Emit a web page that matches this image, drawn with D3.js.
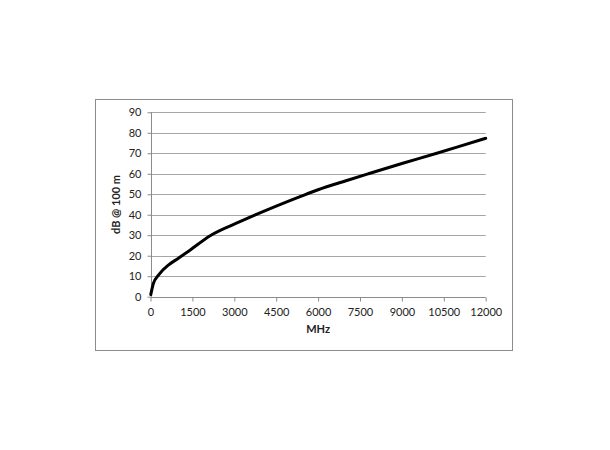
<!DOCTYPE html>
<html>
<head>
<meta charset="utf-8">
<script src="https://cdn.jsdelivr.net/npm/d3@7/dist/d3.min.js"></script>
<style>
  html, body { margin: 0; padding: 0; background: #fff; }
  svg { display: block; }
</style>
</head>
<body>
<svg id="chart" width="610" height="450"></svg>
<script>
// Data
const freqMHz = [10, 100, 300, 650, 1000, 1400, 2150, 3200, 3750, 4500, 5400, 6000, 7000, 7800, 9000, 10250, 11000, 12000];
const attenDb = [1.0, 6.3, 10.8, 15.5, 18.8, 22.6, 29.9, 36.6, 39.9, 44.2, 49.1, 52.2, 56.6, 60.0, 65.0, 70.0, 73.1, 77.3];
const xTicks = [0, 1500, 3000, 4500, 6000, 7500, 9000, 10500, 12000];
const yTicks = [0, 10, 20, 30, 40, 50, 60, 70, 80, 90];
const xTitle = "MHz";
const yTitle = "dB @ 100 m";

(function () {
const data = freqMHz.map((f, i) => ({ f, v: attenDb[i] }));

const svg = d3.select("#chart");
const font = "Lato, 'Open Sans', sans-serif";

// outer frame
svg.append("rect")
  .attr("x", 95.5).attr("y", 99.5)
  .attr("width", 417).attr("height", 251)
  .attr("fill", "#fff").attr("stroke", "#8c8c8c").attr("stroke-width", 1);

const pL = 150.5, pR = 485.7, pT = 112.3, pB = 296.7;
const x = d3.scaleLinear().domain([0, 12000]).range([pL, pR]);
const y = d3.scaleLinear().domain([0, 90]).range([pB, pT]);

// grid
svg.append("g").selectAll("line").data(yTicks.filter(t => t > 0)).join("line")
  .attr("x1", pL).attr("x2", pR)
  .attr("y1", d => Math.round(y(d)) + 0.5).attr("y2", d => Math.round(y(d)) + 0.5)
  .attr("stroke", "#a6a6a6").attr("stroke-width", 1);

// y axis
const yAxis = svg.append("g")
  .attr("transform", `translate(${Math.round(pL) + 0.5},0)`)
  .call(d3.axisLeft(y).tickValues(yTicks).tickSize(4).tickPadding(6).tickFormat(d3.format("d")));
yAxis.select(".domain").attr("stroke", "#8c8c8c").attr("d", `M0,${y(90)}V${y(0)}`);
yAxis.selectAll(".tick line").attr("stroke", "#8c8c8c");
yAxis.selectAll("text").attr("font-family", font).attr("font-size", "11px").attr("fill", "#222");

// x axis
const xAxis = svg.append("g")
  .attr("transform", `translate(0,${Math.round(pB) + 0.5})`)
  .call(d3.axisBottom(x).tickValues(xTicks).tickSize(4).tickPadding(7).tickFormat(d3.format("d")));
xAxis.select(".domain").attr("stroke", "#8c8c8c").attr("d", `M${x(0)},0H${x(12000)}`);
xAxis.selectAll(".tick line").attr("stroke", "#8c8c8c");
xAxis.selectAll("text").attr("font-family", font).attr("font-size", "11px").attr("fill", "#222");

// line
const line = d3.line().x(d => x(d.f)).y(d => y(d.v)).curve(d3.curveMonotoneX);
svg.append("path").datum(data)
  .attr("d", line)
  .attr("fill", "none").attr("stroke", "#000").attr("stroke-width", 3)
  .attr("stroke-linejoin", "round").attr("stroke-linecap", "round");

// titles
svg.append("text")
  .attr("x", (pL + pR) / 2).attr("y", 333)
  .attr("text-anchor", "middle")
  .attr("font-family", font).attr("font-size", "11px").attr("font-weight", "bold").attr("fill", "#222")
  .text(xTitle);

svg.append("text")
  .attr("transform", `translate(120,${(pT + pB) / 2}) rotate(-90)`)
  .attr("text-anchor", "middle")
  .attr("font-family", font).attr("font-size", "11px").attr("font-weight", "bold").attr("fill", "#222")
  .text(yTitle);
})();
</script>
</body>
</html>
